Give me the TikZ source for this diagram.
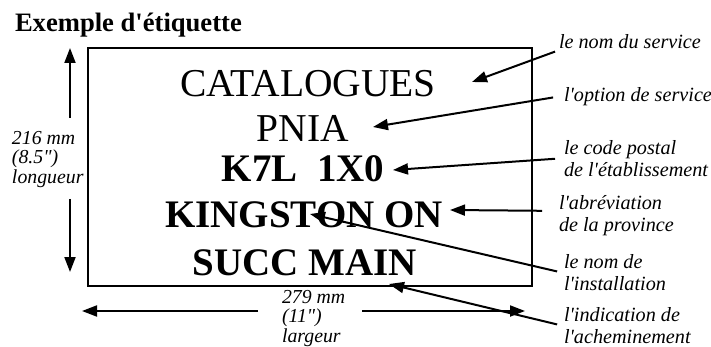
\documentclass[tikz,border=0pt]{standalone}
\usepackage{fontspec}
\setmainfont{Liberation Serif}[Ligatures=TeXOff]
\usetikzlibrary{arrows.meta}

\begin{document}
\begin{tikzpicture}[x=1pt,y=-1pt,->,>={Triangle[length=15pt,width=11pt]},line width=2pt]
	\tikzstyle{addr}=[anchor=base,font=\fontsize{39.5}{40}\selectfont]
	\tikzstyle{bold addr}=[addr,font=\fontsize{39}{40}\selectfont\bfseries]
	\tikzstyle{note}=[anchor=north west,align=left,inner sep=2pt,font=\fontsize{20.2}{22.5}\selectfont\itshape]
	\tikzstyle{dim}=[anchor=north west,align=left,inner sep=0pt,font=\fontsize{19.8}{19.5}\selectfont\itshape]

	\useasboundingbox (0,0) rectangle (711,347);

	\node[anchor=base west,inner sep=0pt,font=\fontsize{26.6}{30}\selectfont\bfseries] (title) at (14,32) {Exemple d'étiquette};

	% the label itself
	\draw[-,line width=1.2pt] (88,48) rectangle (532,286);
	\node[addr] (serv) at (308,97) {CATALOGUES};
	\node[addr] (opt) at (303,142) {PNIA};
	\node[bold addr] (code) at (303,182) {K7L~~1X0};
	\node[bold addr] (prov) at (304,227) {KINGSTON ON};
	\node[bold addr] (route) at (305,275) {SUCC MAIN};

	% notes on the right
	\node[note] (nserv) at (556,31) {le nom du service};
	\node[note] (nopt) at (561,84) {l'option de service};
	\node[note] (ncode) at (561,137) {le code postal\\de l'établissement};
	\node[note] (nprov) at (556,192) {l'abréviation\\de la province};
	\node[note] (ninst) at (561,251) {le nom de\\l'installation};
	\node[note] (nroute) at (561,304) {l'indication de\\l'acheminement};

	\coordinate (pserv) at (472,82);
	\coordinate (popt) at (373,127);
	\coordinate (pcode) at (393,170);
	\coordinate (pprov) at (450,210);
	\coordinate (pinst) at (310,214);
	\coordinate (proute) at (389,284);

	\draw[shorten <=1pt] (nserv.south west) -- (pserv);
	\draw[shorten <=8pt] (nopt.west) -- (popt);
	\draw[shorten <=6pt] (ncode.west) -- (pcode);
	\draw[shorten <=14pt] ([yshift=4.5pt]nprov.west) -- (pprov);
	\draw[shorten <=4pt] (ninst.west) -- (pinst);
	\draw[shorten <=4pt] (nroute.west) -- (proute);

	% size of the label
	\node[dim] (height) at (11,130) {216 mm\\(8.5")\\longueur};
	\node[dim] (width) at (281,289) {279 mm\\(11")\\largeur};

	\coordinate (htop) at (70,48);
	\coordinate (hup) at (70,118);
	\coordinate (hdown) at (70,199);
	\coordinate (hbot) at (70,272);
	\draw (hup) -- (htop);
	\draw (hdown) -- (hbot);

	\coordinate (wleft) at (82,311);
	\coordinate (wmidl) at (258,311);
	\coordinate (wmidr) at (362,311);
	\coordinate (wright) at (525,311);
	\draw (wmidl) -- (wleft);
	\draw (wmidr) -- (wright);
\end{tikzpicture}
\end{document}
